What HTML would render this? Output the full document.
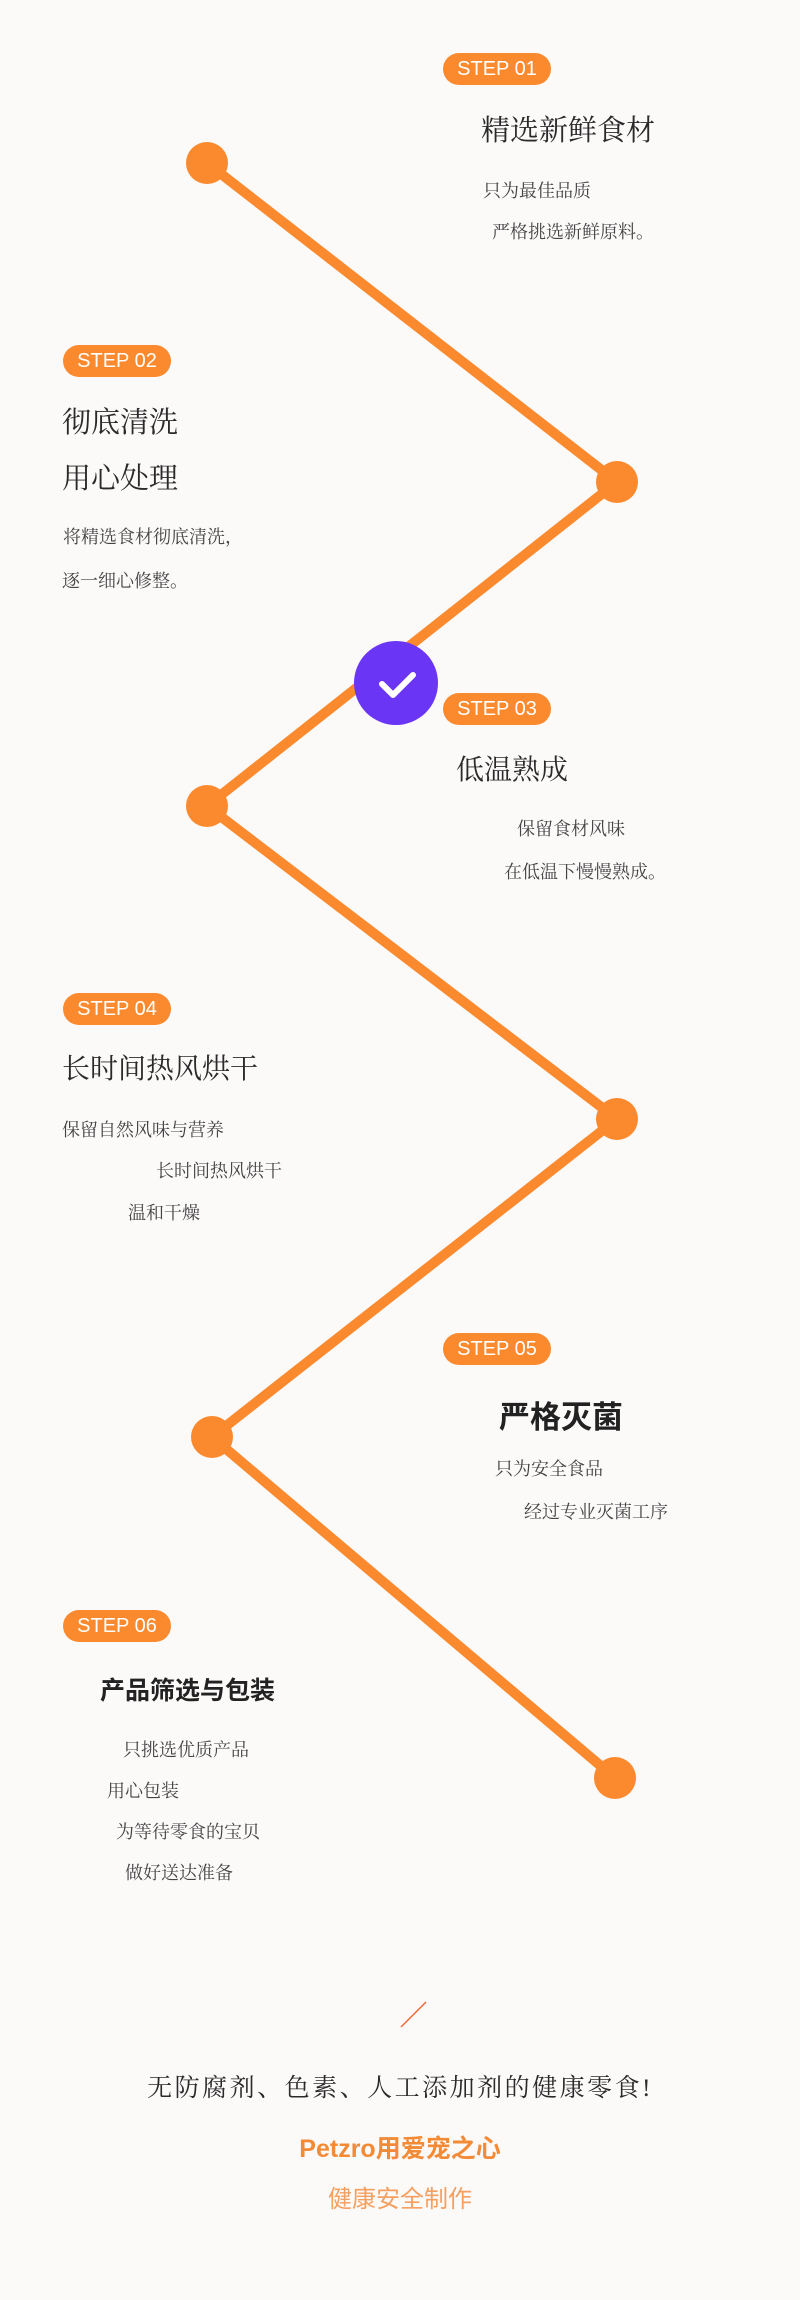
<!DOCTYPE html>
<html><head><meta charset="utf-8"><style>
*{margin:0;padding:0;box-sizing:border-box}
body{width:800px;height:2300px;background:#fcf9f9;position:relative;overflow:hidden;font-family:"Liberation Sans","Noto Sans CJK SC",sans-serif;color:#333}
.t{position:absolute;white-space:nowrap}
.pill{position:absolute;width:108px;height:32px;border-radius:16px;background:#fb8a2e;color:#fff;font-size:20px;line-height:32px;text-align:center;font-family:"Liberation Sans",sans-serif}
.h{font-family:"Liberation Serif","Noto Serif CJK SC",serif;color:#2a2a2a}
.s{font-family:"Liberation Serif","Noto Serif CJK SC",serif;font-size:18px;line-height:18px;color:#444}
</style></head><body>
<svg width="800" height="2300" style="position:absolute;left:0;top:0">
<polyline points="207,163 617,482 207,806 617,1119 212,1437 615,1778" fill="none" stroke="#fb8a2e" stroke-width="10" stroke-linejoin="round"/>
<circle cx="207" cy="163" r="21" fill="#fb8a2e"/>
<circle cx="617" cy="482" r="21" fill="#fb8a2e"/>
<circle cx="207" cy="806" r="21" fill="#fb8a2e"/>
<circle cx="617" cy="1119" r="21" fill="#fb8a2e"/>
<circle cx="212" cy="1437" r="21" fill="#fb8a2e"/>
<circle cx="615" cy="1778" r="21" fill="#fb8a2e"/>
<circle cx="396" cy="683" r="42" fill="#6a35f5"/>
<polyline points="382,684 393,695 413,675" fill="none" stroke="#fff" stroke-width="6" stroke-linecap="round" stroke-linejoin="round"/>
<line x1="401" y1="2027" x2="426" y2="2002" stroke="#f06a3a" stroke-width="1.5"/>
</svg>

<div class="pill" style="left:443px;top:53px">STEP 01</div>
<div class="t h" style="left:481px;top:116px;font-size:29px;line-height:30px">精选新鲜食材</div>
<div class="t s" style="left:483px;top:182px">只为最佳品质</div>
<div class="t s" style="left:492px;top:223px">严格挑选新鲜原料。</div>

<div class="pill" style="left:63px;top:345px">STEP 02</div>
<div class="t h" style="left:62px;top:408px;font-size:29px;line-height:30px">彻底清洗</div>
<div class="t h" style="left:62px;top:464px;font-size:29px;line-height:30px">用心处理</div>
<div class="t s" style="left:63px;top:528px">将精选食材彻底清洗，</div>
<div class="t s" style="left:62px;top:572px">逐一细心修整。</div>

<div class="pill" style="left:443px;top:693px">STEP 03</div>
<div class="t h" style="left:456px;top:756px;font-size:28px;line-height:30px">低温熟成</div>
<div class="t s" style="left:517px;top:820px">保留食材风味</div>
<div class="t s" style="left:504px;top:863px">在低温下慢慢熟成。</div>

<div class="pill" style="left:63px;top:993px">STEP 04</div>
<div class="t h" style="left:62px;top:1055px;font-size:28px;line-height:30px">长时间热风烘干</div>
<div class="t s" style="left:62px;top:1121px">保留自然风味与营养</div>
<div class="t s" style="left:156px;top:1162px">长时间热风烘干</div>
<div class="t s" style="left:128px;top:1204px">温和干燥</div>

<div class="pill" style="left:443px;top:1333px">STEP 05</div>
<div class="t" style="left:499px;top:1402px;font-size:31px;line-height:32px;font-weight:bold;color:#222">严格灭菌</div>
<div class="t s" style="left:495px;top:1460px">只为安全食品</div>
<div class="t s" style="left:524px;top:1503px">经过专业灭菌工序</div>

<div class="pill" style="left:63px;top:1610px">STEP 06</div>
<div class="t" style="left:100px;top:1678px;font-size:25px;line-height:26px;font-weight:bold;color:#222">产品筛选与包装</div>
<div class="t s" style="left:123px;top:1741px">只挑选优质产品</div>
<div class="t s" style="left:107px;top:1782px">用心包装</div>
<div class="t s" style="left:116px;top:1823px">为等待零食的宝贝</div>
<div class="t s" style="left:125px;top:1864px">做好送达准备</div>

<div class="t h" style="left:0;width:800px;text-align:center;top:2074px;font-size:25px;line-height:30px;letter-spacing:2.5px">无防腐剂、色素、人工添加剂的健康零食!</div>
<div class="t" style="left:0;width:800px;text-align:center;top:2136px;font-size:25px;line-height:26px;font-weight:bold;color:#f38a35">Petzro用爱宠之心</div>
<div class="t" style="left:0;width:800px;text-align:center;top:2187px;font-size:24px;line-height:26px;color:#f3a060">健康安全制作</div>
</body></html>
